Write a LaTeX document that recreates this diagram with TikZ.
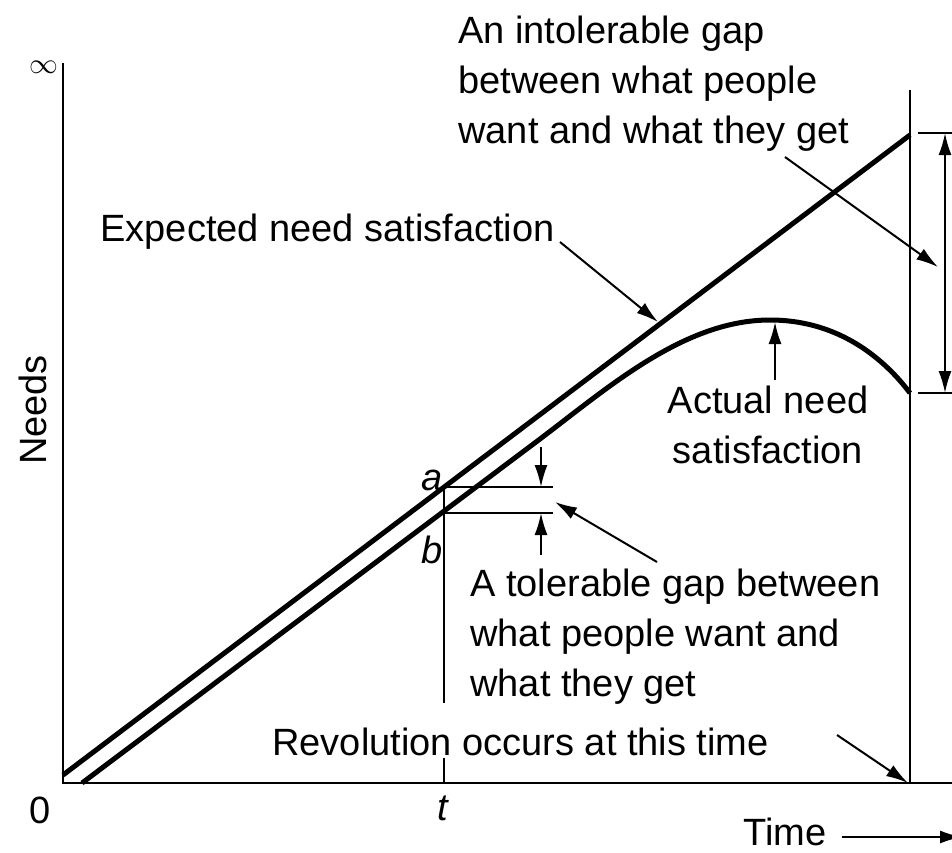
\documentclass[tikz,border=0pt]{standalone}
\usepackage{fontspec}
\setmainfont{Liberation Sans}
\usetikzlibrary{arrows.meta}

\begin{document}
\begin{tikzpicture}[x=0.5pt,y=-0.5pt,
    curve/.style={line width=2.5pt},
    rule/.style={line width=1pt},
    pointer/.style={line width=1pt,-{Latex[length=11pt,width=6.5pt]}},
    lbl/.style={inner sep=0pt,font=\fontsize{19}{25}\selectfont}]
    %%%%% START %%%%%
    \def\xo{63}
    \def\yo{783}
    \def\xt{444}
    \def\xr{910}
    \def\ya{487}
    \def\yb{513}
    \def\ytop{133}
    \def\ylow{393}

    \useasboundingbox (0,0) rectangle (952,852);

    % axes
    \draw[rule] (\xo,63) -- (\xo,\yo) -- (952,\yo);
    \node[lbl,font=\fontsize{14}{16}\selectfont] (inf) at (44,67) {$\infty$};
    \node[lbl,rotate=90] (needs) at (33,410) {Needs};
    \node[lbl,anchor=base] (origin) at (40,823) {0};
    \node[lbl,anchor=base] (tlab) at (443,820) {\itshape t};
    \node[lbl,anchor=base] (timelab) at (785,845) {Time};
    \coordinate (timestart) at (842,837);
    \coordinate (timeend) at (962,837);
    \draw[pointer] (timestart) -- (timeend);

    % the two curves
    \draw[curve] (\xo,775) -- (\xr,135);
    \draw[curve] (82,\yo) -- (540,439) .. controls (610,386) and (685,320) .. (770,320)
        .. controls (840,320) and (885,360) .. (\xr,\ylow);

    % time t and the small gap
    \draw[rule] (\xt,\ya) -- (\xt,703);
    \draw[rule] (\xt,758) -- (\xt,\yo);
    \draw[rule] (\xt,\ya) -- (553,\ya);
    \draw[rule] (\xt,\yb) -- (553,\yb);
    \coordinate (gapa) at (541,\ya);
    \coordinate (gapb) at (541,\yb);
    \draw[pointer] (541,447) -- (gapa);
    \draw[pointer] (541,555) -- (gapb);
    \node[lbl,anchor=base,font=\fontsize{19}{25}\selectfont\itshape] (alab) at (432,490) {a};
    \node[lbl,anchor=base,font=\fontsize{19}{25}\selectfont\itshape] (blab) at (432,563) {b};

    % revolution line and the large gap
    \draw[rule] (\xr,90) -- (\xr,\yo);
    \draw[rule] (918,\ytop) -- (952,\ytop);
    \draw[rule] (918,\ylow) -- (952,\ylow);
    \draw[rule,{Latex[length=11pt,width=6.5pt]}-{Latex[length=11pt,width=6.5pt]}] (945,\ytop) -- (945,\ylow);

    % labels
    \node[lbl,anchor=north west,align=left] (intolerable) at (458,16)
        {An intolerable gap\\between what people\\want and what they get};
    \node[lbl,anchor=base west] (expected) at (100,241) {Expected need satisfaction};
    \node[lbl,anchor=north,align=center] (actual) at (768,386) {Actual need\\satisfaction};
    \node[lbl,anchor=north west,align=left] (tolerable) at (470,569)
        {A tolerable gap between\\what people want and\\what they get};
    \node[lbl,anchor=base west] (revolution) at (272,755) {Revolution occurs at this time};

    % pointers
    \coordinate (intolerablestart) at (785,157);
    \coordinate (intolerableend) at (938,267);
    \coordinate (expectedstart) at (560,242);
    \coordinate (expectedend) at (658,322);
    \coordinate (actualstart) at (775,380);
    \coordinate (actualend) at (775,322);
    \coordinate (tolerablestart) at (657,562);
    \coordinate (tolerableend) at (555,502);
    \coordinate (revolutionstart) at (837,735);
    \coordinate (revolutionend) at (908,783);
    \draw[pointer] (intolerablestart) -- (intolerableend);
    \draw[pointer] (expectedstart) -- (expectedend);
    \draw[pointer] (actualstart) -- (actualend);
    \draw[pointer] (tolerablestart) -- (tolerableend);
    \draw[pointer] (revolutionstart) -- (revolutionend);
    %%%%% END %%%%%
\end{tikzpicture}
\end{document}
